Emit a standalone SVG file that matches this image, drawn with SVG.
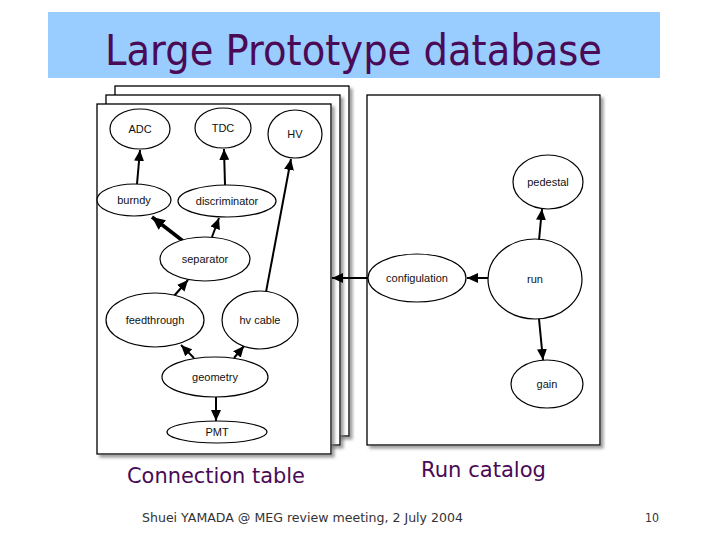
<svg xmlns="http://www.w3.org/2000/svg" width="720" height="540" viewBox="0 0 720 540">
<style>
.node ellipse{fill:#fff;stroke:#000;stroke-width:1.2}
.node text{font-family:"Liberation Sans",Arial,sans-serif;font-size:11px;fill:#111;text-anchor:middle}
.edge{fill:none;stroke:#000;stroke-width:2;marker-end:url(#ah)}
.thick{stroke-width:3.5;marker-end:url(#ahb)}
.page{fill:#fff;stroke:#000;stroke-width:1.3;filter:url(#sh)}
.lbl{font-family:Tahoma,"DejaVu Sans",sans-serif;fill:#4a0a55}
</style>
<defs>
<filter id="sh" x="-10%" y="-10%" width="130%" height="130%">
<feDropShadow dx="3" dy="3" stdDeviation="1.5" flood-color="#777" flood-opacity="0.7"/>
</filter>
<marker id="ah" markerUnits="userSpaceOnUse" markerWidth="12" markerHeight="10" refX="11" refY="5" orient="auto">
<path d="M0,0 L11,5 L0,10 Z" fill="#000"/>
</marker>
<marker id="ahb" markerUnits="userSpaceOnUse" markerWidth="14" markerHeight="12" refX="13" refY="6" orient="auto">
<path d="M0,0 L13,6 L0,12 Z" fill="#000"/>
</marker>
</defs>
<rect width="720" height="540" fill="#fff"/>
<g id="title">
<rect x="48" y="12" width="612" height="66" fill="#99ccff"/>
<text class="lbl" x="105" y="65" font-size="42" textLength="497" lengthAdjust="spacingAndGlyphs">Large Prototype database</text>
</g>
<g id="pages">
<rect class="page" x="115" y="86" width="234" height="350"/>
<rect class="page" x="106" y="95" width="234" height="350"/>
<rect class="page" x="97" y="104" width="234" height="350"/>
<rect class="page" x="367" y="95" width="233" height="350"/>
</g>
<g id="connectors">
<path class="edge" d="M137,184 L140,150"/>
<path class="edge" d="M225,185 L224,149"/>
<path class="edge thick" d="M183,241 L152,217"/>
<path class="edge" d="M212,237 L219,218"/>
<path class="edge" d="M266,292 L291,159"/>
<path class="edge" d="M174,296 L188,280"/>
<path class="edge" d="M194,358 L181,345"/>
<path class="edge" d="M234,358 L244,346"/>
<path class="edge" d="M216,397 L216,421"/>
<path class="edge" d="M368,278 L332,278"/>
<path class="edge" d="M488,278 L467,278"/>
<path class="edge" d="M539,240 L542,209"/>
<path class="edge" d="M539,319 L543,360"/>
</g>
<g id="ADC" class="node"><ellipse cx="140" cy="129" rx="30" ry="20"/><text x="140" y="133">ADC</text></g>
<g id="TDC" class="node"><ellipse cx="223" cy="128" rx="28" ry="20"/><text x="223" y="132">TDC</text></g>
<g id="HV" class="node"><ellipse cx="295" cy="134" rx="27" ry="24"/><text x="295" y="138">HV</text></g>
<g id="burndy" class="node"><ellipse cx="134" cy="200" rx="37" ry="16"/><text x="134" y="204">burndy</text></g>
<g id="discriminator" class="node"><ellipse cx="227" cy="201" rx="49" ry="16"/><text x="227" y="205">discriminator</text></g>
<g id="separator" class="node"><ellipse cx="205" cy="259" rx="45" ry="22"/><text x="205" y="263">separator</text></g>
<g id="feedthrough" class="node"><ellipse cx="155" cy="320" rx="49" ry="27"/><text x="155" y="324">feedthrough</text></g>
<g id="hvcable" class="node"><ellipse cx="260" cy="320" rx="38" ry="29"/><text x="260" y="324">hv cable</text></g>
<g id="geometry" class="node"><ellipse cx="215" cy="377" rx="53" ry="20"/><text x="215" y="381">geometry</text></g>
<g id="PMT" class="node"><ellipse cx="217" cy="432" rx="50" ry="11"/><text x="217" y="436">PMT</text></g>
<g id="pedestal" class="node"><ellipse cx="548" cy="182" rx="35" ry="27"/><text x="548" y="186">pedestal</text></g>
<g id="run" class="node"><ellipse cx="535" cy="279" rx="47" ry="40"/><text x="535" y="283">run</text></g>
<g id="configulation" class="node"><ellipse cx="417" cy="278" rx="49" ry="24"/><text x="417" y="282">configulation</text></g>
<g id="gain" class="node"><ellipse cx="547" cy="384" rx="36" ry="24"/><text x="547" y="388">gain</text></g>
<g id="labels">
<text class="lbl" x="127" y="483" font-size="22" textLength="178" lengthAdjust="spacingAndGlyphs">Connection table</text>
<text class="lbl" x="421" y="477" font-size="22" textLength="125" lengthAdjust="spacingAndGlyphs">Run catalog</text>
<text x="142" y="522" font-family="Tahoma,'DejaVu Sans',sans-serif" font-size="13" fill="#333" textLength="321" lengthAdjust="spacingAndGlyphs">Shuei YAMADA @ MEG review meeting, 2 July 2004</text>
<text x="645" y="522" font-family="Tahoma,'DejaVu Sans',sans-serif" font-size="13" fill="#333" textLength="14" lengthAdjust="spacingAndGlyphs">10</text>
</g>
</svg>
